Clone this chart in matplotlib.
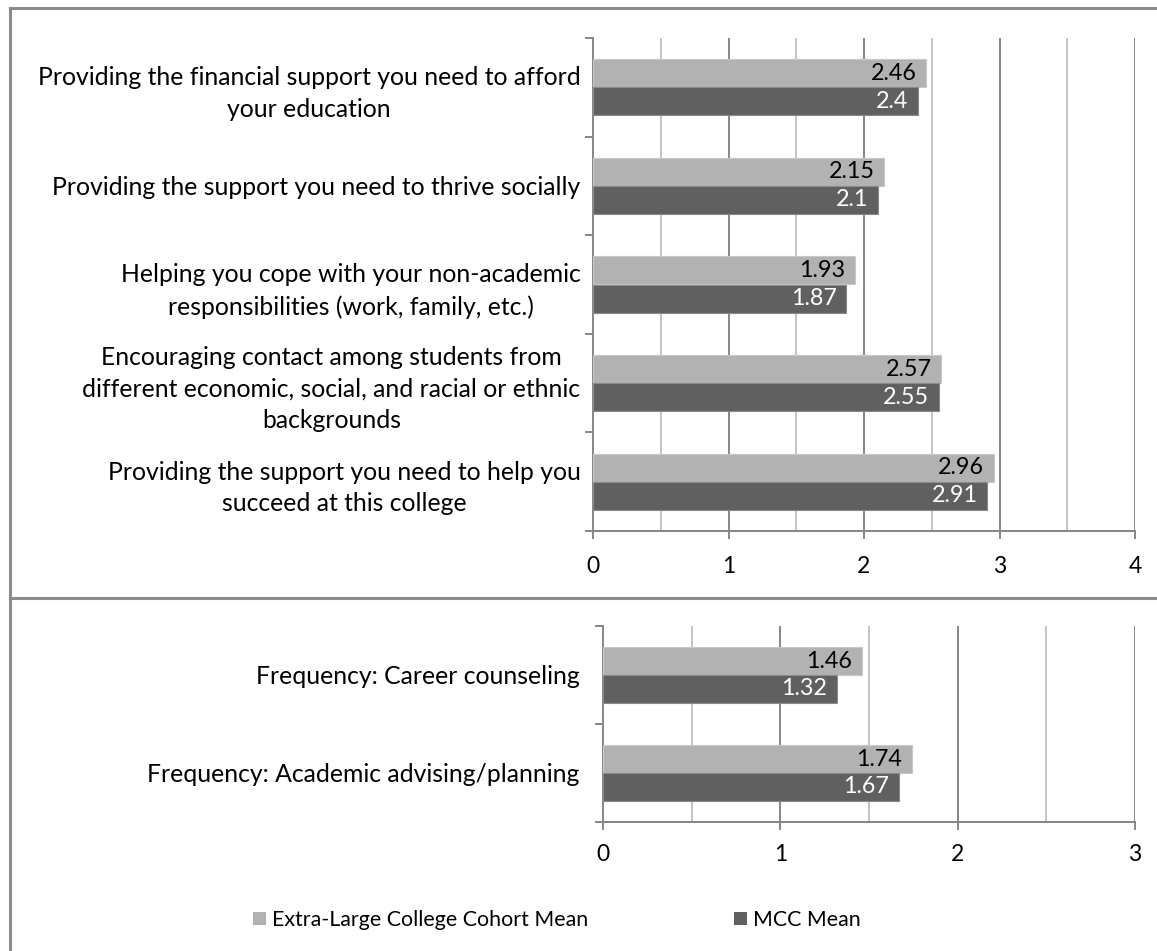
import matplotlib
matplotlib.use("Agg")
import matplotlib.pyplot as plt
from matplotlib.patches import Patch
from matplotlib.lines import Line2D
import numpy as np

plt.rcParams['font.family'] = ['Lato', 'DejaVu Sans']

# ---- data ----
top_categories = [
    "Providing the financial support you need to afford\nyour education",
    "Providing the support you need to thrive socially",
    "Helping you cope with your non-academic\nresponsibilities (work, family, etc.)",
    "Encouraging contact among students from\ndifferent economic, social, and racial or ethnic\nbackgrounds",
    "Providing the support you need to help you\nsucceed at this college",
]
top_cohort = [2.46, 2.15, 1.93, 2.57, 2.96]
top_mcc = [2.4, 2.1, 1.87, 2.55, 2.91]
top_xticks = [0, 1, 2, 3, 4]

bottom_categories = [
    "Frequency: Career counseling",
    "Frequency: Academic advising/planning",
]
bottom_cohort = [1.46, 1.74]
bottom_mcc = [1.32, 1.67]
bottom_xticks = [0, 1, 2, 3]

series_names = ["Extra-Large College Cohort Mean", "MCC Mean"]

LIGHT = "#B2B2B2"
DARK = "#606060"
MAJ = "#868686"
MINOR = "#C4C4C4"
FS_LAB = 17.8
FS_VAL = 16.8
FS_TICK = 16.5
FS_LEG = 15.4

W, H = 1157, 951
fig = plt.figure(figsize=(W / 100, H / 100), dpi=100)


def px_axes(left, top, right, bottom):
    return fig.add_axes([left / W, 1 - bottom / H, (right - left) / W, (bottom - top) / H])


def draw_panel(ax, cats, cohort, mcc, xticks, label_pad, tick_pad):
    n = len(cats)
    y = np.arange(n)
    h = 0.285
    ax.barh(y - h / 2, cohort, height=h, color=LIGHT, edgecolor="#C8C8C8", linewidth=0.8, zorder=3)
    ax.barh(y + h / 2, mcc, height=h, color=DARK, edgecolor="#8A8A8A", linewidth=0.8, zorder=3)
    for yi, v in zip(y, cohort):
        ax.annotate(f"{v:g}", (v, yi - h / 2), xytext=(-7, 0), textcoords="offset points",
                    ha="right", va="center", fontsize=FS_VAL, color="black", zorder=4)
    for yi, v in zip(y, mcc):
        ax.annotate(f"{v:g}", (v, yi + h / 2), xytext=(-7, 0), textcoords="offset points",
                    ha="right", va="center", fontsize=FS_VAL, color="white", zorder=4)
    xmax = xticks[-1]
    ax.set_xlim(0, xmax)
    ax.set_ylim(n - 0.5, -0.5)
    for v in np.arange(0.5, xmax, 1.0):
        ax.axvline(v, color=MINOR, lw=1.4, zorder=1)
    for v in xticks[1:]:
        ax.axvline(v, color=MAJ, lw=1.4, zorder=1)
    ax.set_xticks(xticks)
    ax.set_xticklabels([str(t) for t in xticks], fontsize=FS_TICK)
    ax.tick_params(axis="x", length=6, width=1.4, color=MAJ, pad=tick_pad)
    ax.set_yticks(np.arange(-0.5, n, 1.0))
    ax.set_yticklabels([])
    ax.tick_params(axis="y", length=6, width=1.4, color=MAJ)
    ax.set_yticks(y, minor=True)
    ax.set_yticklabels(cats, minor=True, fontsize=FS_LAB, multialignment="center", linespacing=1.45)
    ax.tick_params(axis="y", which="minor", length=0, pad=label_pad)
    for s in ["top", "right"]:
        ax.spines[s].set_visible(False)
    for s in ["left", "bottom"]:
        ax.spines[s].set_color(MAJ)
        ax.spines[s].set_linewidth(1.4)
    ax.set_facecolor("none")


ax1 = px_axes(593, 38, 1135, 531)
draw_panel(ax1, top_categories, top_cohort, top_mcc, top_xticks, label_pad=9, tick_pad=12)

ax2 = px_axes(603, 626, 1135, 822)
draw_panel(ax2, bottom_categories, bottom_cohort, bottom_mcc, bottom_xticks, label_pad=17, tick_pad=10)

FR = "#8C8C8C"
fig.add_artist(Line2D([10 / W, 1], [1 - 8 / H, 1 - 8 / H], color=FR, lw=2.2))
fig.add_artist(Line2D([10 / W, 10 / W], [1 - 8 / H, 0], color=FR, lw=2.2))
fig.add_artist(Line2D([10 / W, 1], [1 - 598 / H, 1 - 598 / H], color=FR, lw=2.2))

handles = [Patch(facecolor=LIGHT, edgecolor="none"), Patch(facecolor=DARK, edgecolor="none")]
fig.legend(handles, series_names, loc="center", bbox_to_anchor=(557 / W, 1 - 920 / H),
           ncol=2, frameon=False, fontsize=FS_LEG, handlelength=0.6, handleheight=0.6,
           handletextpad=0.3, columnspacing=6.8)

fig.savefig("out.png", dpi=100)
